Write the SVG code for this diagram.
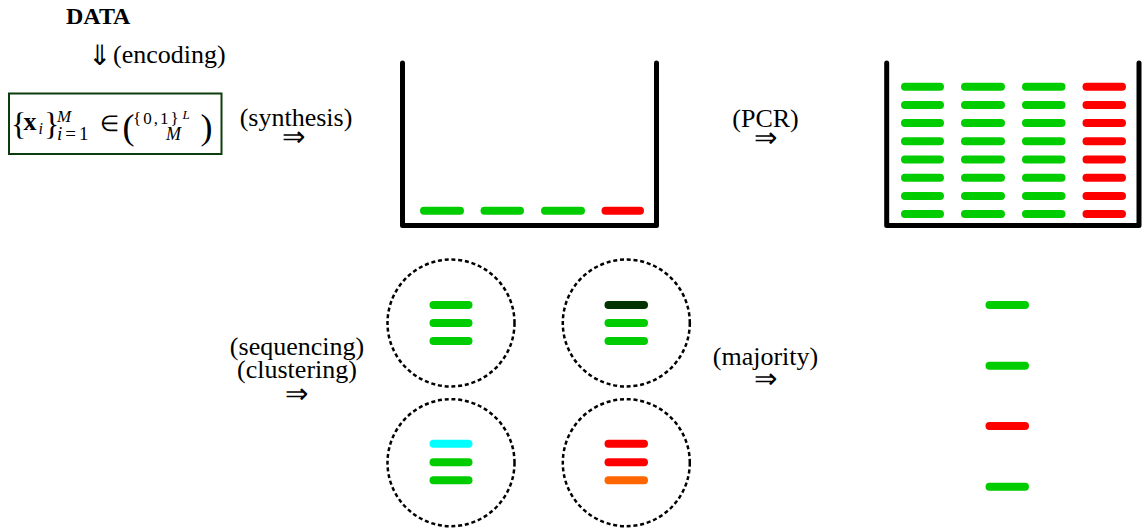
<svg xmlns="http://www.w3.org/2000/svg" width="1142" height="530" viewBox="0 0 1142 530">
<style>
  .t { font-family: "Liberation Serif", "Times New Roman", serif; font-size: 26px; fill: #000; }
  .arr { font-family: "DejaVu Sans", sans-serif; font-weight: 200; font-size: 28px; fill: #000; }
  .m { font-family: "Liberation Serif", "Times New Roman", serif; fill: #000; }
  .s { stroke-width: 8; stroke-linecap: round; fill: none; }
  .g { stroke: #00cc00; }
  .r { stroke: #ff0000; }
  .dg { stroke: #003300; }
  .c { stroke: #00ffff; }
  .o { stroke: #ff6600; }
  .wall { fill: none; stroke: #000; stroke-width: 5; stroke-linecap: round; stroke-linejoin: round; }
  .clu { fill: none; stroke: #000; stroke-width: 2.5; stroke-dasharray: 4 2.8; }
</style>

<g id="data-label">
  <text class="t" x="66" y="24" style="font-weight:bold;font-size:24px">DATA</text>
</g>

<g id="encoding-label">
  <text class="arr" x="88" y="65" style="font-size:28px">⇓</text>
  <text class="t" x="113" y="63">(encoding)</text>
</g>

<g id="codeword-box">
  <rect x="9" y="93.5" width="212.5" height="60.5" fill="none" stroke="#0d3d0d" stroke-width="2"/>
  <text class="m" x="11" y="135" style="font-size:32px">{</text>
  <text class="m" x="23.5" y="130" style="font-size:26px;font-weight:bold">x</text>
  <text class="m" x="38.5" y="134" style="font-size:16px;font-style:italic">i</text>
  <text class="m" x="44" y="135" style="font-size:32px">}</text>
  <text class="m" x="57" y="122" style="font-size:17px;font-style:italic">M</text>
  <text class="m" x="57" y="140" style="font-size:19px"><tspan style="font-style:italic">i</tspan><tspan dx="3">=</tspan><tspan dx="3">1</tspan></text>
  <text class="m" x="99.5" y="131" style="font-size:22px">∈</text>
  <text class="m" x="122.5" y="139" style="font-size:36px">(</text>
  <text class="m" x="133" y="124" style="font-size:17px;letter-spacing:2px">{0,1}</text>
  <text class="m" x="182.5" y="119" style="font-size:13px;font-style:italic">L</text>
  <text class="m" x="166" y="140" style="font-size:18px;font-style:italic">M</text>
  <text class="m" x="200.5" y="139" style="font-size:36px">)</text>
</g>

<g id="connectors">
  <g id="synthesis-arrow">
    <text class="t" x="296" y="125.5" text-anchor="middle">(synthesis)</text>
    <text class="arr" x="293" y="146" text-anchor="middle">⇒</text>
  </g>
  <g id="pcr-arrow">
    <text class="t" x="765.5" y="126.5" text-anchor="middle">(PCR)</text>
    <text class="arr" x="765.5" y="147" text-anchor="middle">⇒</text>
  </g>
  <g id="sequencing-arrow">
    <text class="t" x="297" y="355" text-anchor="middle">(sequencing)</text>
    <text class="t" x="297" y="378" text-anchor="middle">(clustering)</text>
    <text class="arr" x="296" y="403" text-anchor="middle">⇒</text>
  </g>
  <g id="majority-arrow">
    <text class="t" x="765.5" y="365" text-anchor="middle">(majority)</text>
    <text class="arr" x="765" y="388" text-anchor="middle">⇒</text>
  </g>
</g>

<g id="synthesis-pool">
  <path class="wall" d="M402.5,63 V225.5 H656.5 V63"/>
  <line class="s g" x1="424" y1="210.7" x2="460" y2="210.7"/>
  <line class="s g" x1="484.5" y1="210.7" x2="520" y2="210.7"/>
  <line class="s g" x1="545" y1="210.7" x2="581" y2="210.7"/>
  <line class="s r" x1="605.5" y1="210.7" x2="640" y2="210.7"/>
</g>

<g id="pcr-pool">
  <path class="wall" d="M886.7,63 V225.5 H1139 V63"/>
  <g class="s g">
    <path d="M905,86.7H940 M905,104.9H940 M905,123.1H940 M905,141.3H940 M905,159.5H940 M905,177.7H940 M905,195.9H940 M905,214H940"/>
    <path d="M965,86.7H1001 M965,104.9H1001 M965,123.1H1001 M965,141.3H1001 M965,159.5H1001 M965,177.7H1001 M965,195.9H1001 M965,214H1001"/>
    <path d="M1026,86.7H1061.5 M1026,104.9H1061.5 M1026,123.1H1061.5 M1026,141.3H1061.5 M1026,159.5H1061.5 M1026,177.7H1061.5 M1026,195.9H1061.5 M1026,214H1061.5"/>
  </g>
  <path class="s r" d="M1086.5,86.7H1122 M1086.5,104.9H1122 M1086.5,123.1H1122 M1086.5,141.3H1122 M1086.5,159.5H1122 M1086.5,177.7H1122 M1086.5,195.9H1122 M1086.5,214H1122"/>
</g>

<g id="cluster-1">
  <circle class="clu" cx="451" cy="323" r="63.5"/>
  <line class="s g" x1="433.5" y1="305" x2="468.5" y2="305"/>
  <line class="s g" x1="433.5" y1="323" x2="468.5" y2="323"/>
  <line class="s g" x1="433.5" y1="341" x2="468.5" y2="341"/>
</g>

<g id="cluster-2">
  <circle class="clu" cx="626.3" cy="323" r="63.5"/>
  <line class="s dg" x1="608.5" y1="305" x2="644" y2="305"/>
  <line class="s g" x1="608.5" y1="323" x2="644" y2="323"/>
  <line class="s g" x1="608.5" y1="341" x2="644" y2="341"/>
</g>

<g id="cluster-3">
  <circle class="clu" cx="451" cy="462.7" r="63.5"/>
  <line class="s c" x1="433.5" y1="443.7" x2="468.5" y2="443.7"/>
  <line class="s g" x1="433.5" y1="462.3" x2="468.5" y2="462.3"/>
  <line class="s g" x1="433.5" y1="480.3" x2="468.5" y2="480.3"/>
</g>

<g id="cluster-4">
  <circle class="clu" cx="626.3" cy="462.7" r="63.5"/>
  <line class="s r" x1="608.5" y1="443.7" x2="644" y2="443.7"/>
  <line class="s r" x1="608.5" y1="462.3" x2="644" y2="462.3"/>
  <line class="s o" x1="608.5" y1="480.3" x2="644" y2="480.3"/>
</g>

<g id="majority-result">
  <line class="s g" x1="989.5" y1="305" x2="1025" y2="305"/>
  <line class="s g" x1="989.5" y1="365.7" x2="1025" y2="365.7"/>
  <line class="s r" x1="989.5" y1="426" x2="1025" y2="426"/>
  <line class="s g" x1="989.5" y1="486.7" x2="1025" y2="486.7"/>
</g>
</svg>
